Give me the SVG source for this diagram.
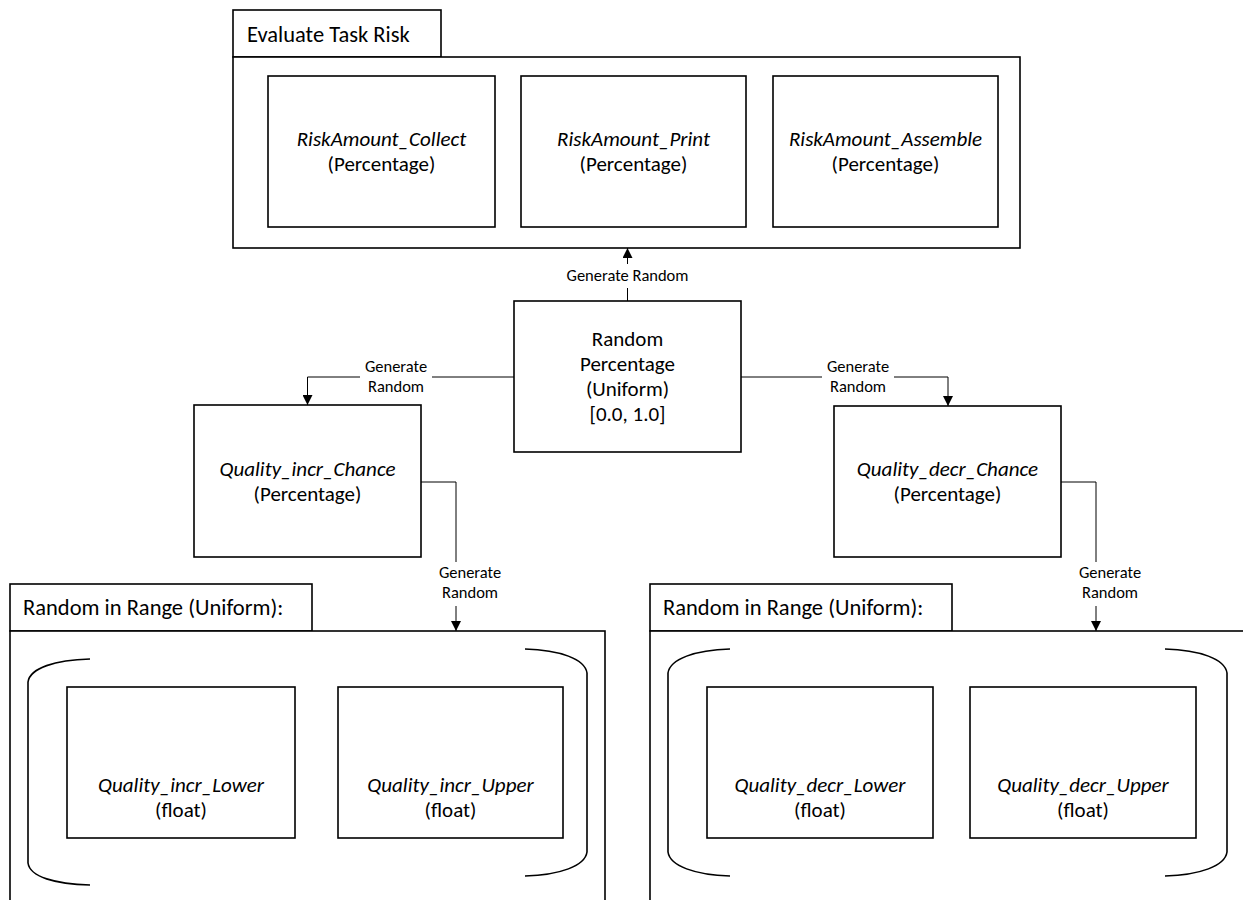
<svg xmlns="http://www.w3.org/2000/svg" width="1243" height="900" viewBox="0 0 1243 900">
  <style>
    .frame { fill: #fff; stroke: #000; stroke-width: 1.6; }
    .box { fill: #fff; stroke: #000; stroke-width: 1.6; }
    .bracket { fill: none; stroke: #000; stroke-width: 1.6; }
    .wire { fill: none; stroke: #000; stroke-width: 1; }
    .t { font-family: Carlito, Lato, "Liberation Sans", sans-serif; font-size: 21px; fill: #000; text-anchor: middle; }
    .it { font-style: italic; }
    .tab { font-family: Carlito, Lato, "Liberation Sans", sans-serif; font-size: 22.5px; fill: #000; }
    .lbl { font-family: Carlito, Lato, "Liberation Sans", sans-serif; font-size: 16.5px; fill: #000; text-anchor: middle; }
    .gap { fill: #fff; stroke: none; }
  </style>
  <defs>
    <marker id="arrow" viewBox="0 0 10 10" refX="10" refY="5" markerWidth="10" markerHeight="10" markerUnits="userSpaceOnUse" orient="auto">
      <path d="M0,0 L10,5 L0,10 Z" fill="#000"/>
    </marker>
  </defs>
  <rect width="1243" height="900" fill="#fff"/>

  <!-- Evaluate Task Risk container -->
  <g id="evaluate-task-risk">
    <rect class="frame" x="233" y="10" width="208" height="47"/>
    <text class="tab" x="247" y="42">Evaluate Task Risk</text>
    <rect class="frame" x="233" y="57" width="787" height="191"/>
    <g id="risk-collect">
      <rect class="box" x="268" y="76" width="227" height="151"/>
      <text class="t it" x="381.5" y="146">RiskAmount_Collect</text>
      <text class="t" x="381.5" y="171">(Percentage)</text>
    </g>
    <g id="risk-print">
      <rect class="box" x="521" y="76" width="225" height="151"/>
      <text class="t it" x="633.5" y="146">RiskAmount_Print</text>
      <text class="t" x="633.5" y="171">(Percentage)</text>
    </g>
    <g id="risk-assemble">
      <rect class="box" x="773" y="76" width="225" height="151"/>
      <text class="t it" x="885.5" y="146">RiskAmount_Assemble</text>
      <text class="t" x="885.5" y="171">(Percentage)</text>
    </g>
  </g>

  <!-- Random Percentage source -->
  <g id="random-percentage">
    <rect class="box" x="514" y="301" width="227" height="151"/>
    <text class="t" x="627.5" y="346">Random</text>
    <text class="t" x="627.5" y="371">Percentage</text>
    <text class="t" x="627.5" y="396">(Uniform)</text>
    <text class="t" x="627.5" y="421">[0.0, 1.0]</text>
  </g>

  <g id="quality-incr-chance">
    <rect class="box" x="194" y="405" width="227" height="152"/>
    <text class="t it" x="307.5" y="476">Quality_incr_Chance</text>
    <text class="t" x="307.5" y="501">(Percentage)</text>
  </g>

  <g id="quality-decr-chance">
    <rect class="box" x="834" y="406" width="227" height="151"/>
    <text class="t it" x="947.5" y="476">Quality_decr_Chance</text>
    <text class="t" x="947.5" y="501">(Percentage)</text>
  </g>

  <!-- Random in Range, increase side -->
  <g id="range-incr">
    <rect class="frame" x="10" y="584" width="302" height="47"/>
    <text class="tab" x="23" y="615">Random in Range (Uniform):</text>
    <rect class="frame" x="10" y="631" width="595" height="280"/>
    <path class="bracket" d="M90 659 C55 660 30 668 28 682 V863 C30 877 55 884 90 885"/>
    <path class="bracket" d="M525 649 C560 650 585 659 587 673 V852 C585 866 560 875 525 876"/>
    <g id="quality-incr-lower">
      <rect class="box" x="67" y="687" width="228" height="151"/>
      <text class="t it" x="181" y="792">Quality_incr_Lower</text>
      <text class="t" x="181" y="817">(float)</text>
    </g>
    <g id="quality-incr-upper">
      <rect class="box" x="338" y="687" width="225" height="151"/>
      <text class="t it" x="450.5" y="792">Quality_incr_Upper</text>
      <text class="t" x="450.5" y="817">(float)</text>
    </g>
  </g>

  <!-- Random in Range, decrease side -->
  <g id="range-decr">
    <rect class="frame" x="650" y="584" width="302" height="47"/>
    <text class="tab" x="663" y="615">Random in Range (Uniform):</text>
    <rect class="frame" x="650" y="631" width="610" height="280"/>
    <path class="bracket" d="M730 649 C695 650 670 659 668 673 V852 C670 866 695 875 730 876"/>
    <path class="bracket" d="M1165 649 C1200 650 1225 659 1227 673 V852 C1225 866 1200 875 1165 876"/>
    <g id="quality-decr-lower">
      <rect class="box" x="707" y="687" width="226" height="151"/>
      <text class="t it" x="820" y="792">Quality_decr_Lower</text>
      <text class="t" x="820" y="817">(float)</text>
    </g>
    <g id="quality-decr-upper">
      <rect class="box" x="970" y="687" width="226" height="151"/>
      <text class="t it" x="1083" y="792">Quality_decr_Upper</text>
      <text class="t" x="1083" y="817">(float)</text>
    </g>
  </g>

  <!-- Connectors -->
  <g id="connectors">
    <path class="wire" d="M627.5 301 V248" marker-end="url(#arrow)"/>
    <path class="wire" d="M514 377 H307.5 V405" marker-end="url(#arrow)"/>
    <path class="wire" d="M741 377 H948 V406" marker-end="url(#arrow)"/>
    <path class="wire" d="M421 482 H456 V631" marker-end="url(#arrow)"/>
    <path class="wire" d="M1061 482 H1096 V631" marker-end="url(#arrow)"/>

    <rect class="gap" x="560" y="264" width="135" height="24"/>
    <text class="lbl" x="627.5" y="281">Generate Random</text>

    <rect class="gap" x="360" y="359" width="72" height="38"/>
    <text class="lbl" x="396" y="372">Generate</text>
    <text class="lbl" x="396" y="392">Random</text>

    <rect class="gap" x="822" y="359" width="72" height="38"/>
    <text class="lbl" x="858" y="372">Generate</text>
    <text class="lbl" x="858" y="392">Random</text>

    <rect class="gap" x="432" y="562" width="76" height="44"/>
    <text class="lbl" x="470" y="578">Generate</text>
    <text class="lbl" x="470" y="598">Random</text>

    <rect class="gap" x="1072" y="562" width="76" height="44"/>
    <text class="lbl" x="1110" y="578">Generate</text>
    <text class="lbl" x="1110" y="598">Random</text>
  </g>
</svg>
